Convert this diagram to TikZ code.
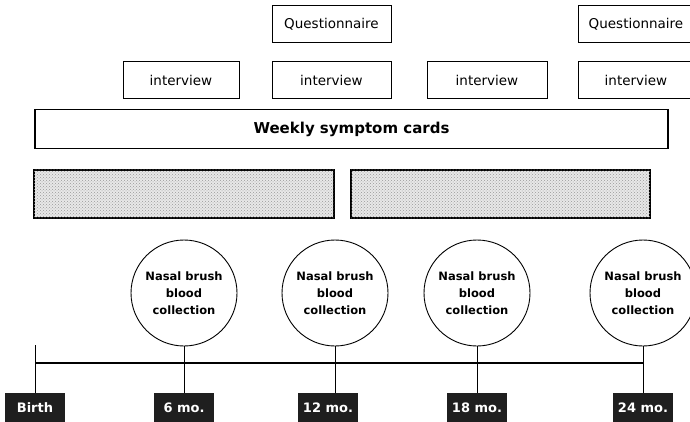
\documentclass[tikz,border=0pt]{standalone}
\usepackage{fontspec}
\setmainfont{DejaVu Sans}
\usetikzlibrary{patterns}
\begin{document}
\begin{tikzpicture}[x=1pt,y=-1pt,
  box/.style={draw=black, line width=1pt, fill=white, minimum height=37pt, inner sep=0pt, font=\fontsize{13.5}{15}\selectfont},
  bar/.style={draw=black, line width=1.2pt, minimum height=39pt, inner sep=0pt},
  shaded/.style={draw=black, line width=1.2pt, fill=gray!18, minimum height=48pt, inner sep=0pt,
    postaction={pattern=crosshatch dots, pattern color=black!40}},
  sample/.style={circle, draw=black, line width=0.9pt, minimum size=106pt, inner sep=0pt, align=center, font=\bfseries\fontsize{11.5}{17}\selectfont},
  age/.style={fill=black!88, text=white, minimum height=29pt, minimum width=60pt, inner sep=0pt, font=\bfseries\fontsize{13}{15}\selectfont},
  link/.style={line width=0.9pt},
  axis/.style={line width=2.2pt}
]
\useasboundingbox (0,0) rectangle (690,422);

% questionnaires
\node[box, minimum width=119pt] (q1) at (331.5,24) {Questionnaire};
\node[box, minimum width=116pt] (q2) at (636,24) {Questionnaire};

% interviews
\node[box, minimum width=116pt] (i1) at (181,80) {interview};
\node[box, minimum width=119pt] (i2) at (331.5,80) {interview};
\node[box, minimum width=120pt] (i3) at (487,80) {interview};
\node[box, minimum width=116pt] (i4) at (636,80) {interview};

% symptom cards
\node[bar, minimum width=633pt, font=\bfseries\fontsize{15}{17}\selectfont] (w) at (351.5,129) {Weekly symptom cards};

% shaded periods
\node[shaded, minimum width=300pt] (g1) at (184,194) {};
\node[shaded, minimum width=299pt] (g2) at (500.5,194) {};

% sampling visits
\node[sample] (c1) at (184,293) {Nasal brush\\blood\\collection};
\node[sample] (c2) at (335,293) {Nasal brush\\blood\\collection};
\node[sample] (c3) at (477,293) {Nasal brush\\blood\\collection};
\node[sample] (c4) at (643,293) {Nasal brush\\blood\\collection};

% age labels
\node[age] (lb) at (35,407.5) {Birth};
\node[age] (l1) at (184,407.5) {6 mo.};
\node[age] (l2) at (328,407.5) {12 mo.};
\node[age] (l3) at (477,407.5) {18 mo.};
\node[age] (l4) at (643,407.5) {24 mo.};

% time axis
\coordinate (t0) at (35,345);
\coordinate (a0) at (35,363);
\coordinate (a1) at (643,363);
\draw[axis] (a0) -- (a1);
\draw[link] (t0) -- (lb.north);
\draw[link] (c1.south) -- (l1.north);
\draw[link] (c2.south) -- (c2.south |- l2.north);
\draw[link] (c3.south) -- (l3.north);
\draw[link] (c4.south) -- (l4.north);
\end{tikzpicture}
\end{document}
